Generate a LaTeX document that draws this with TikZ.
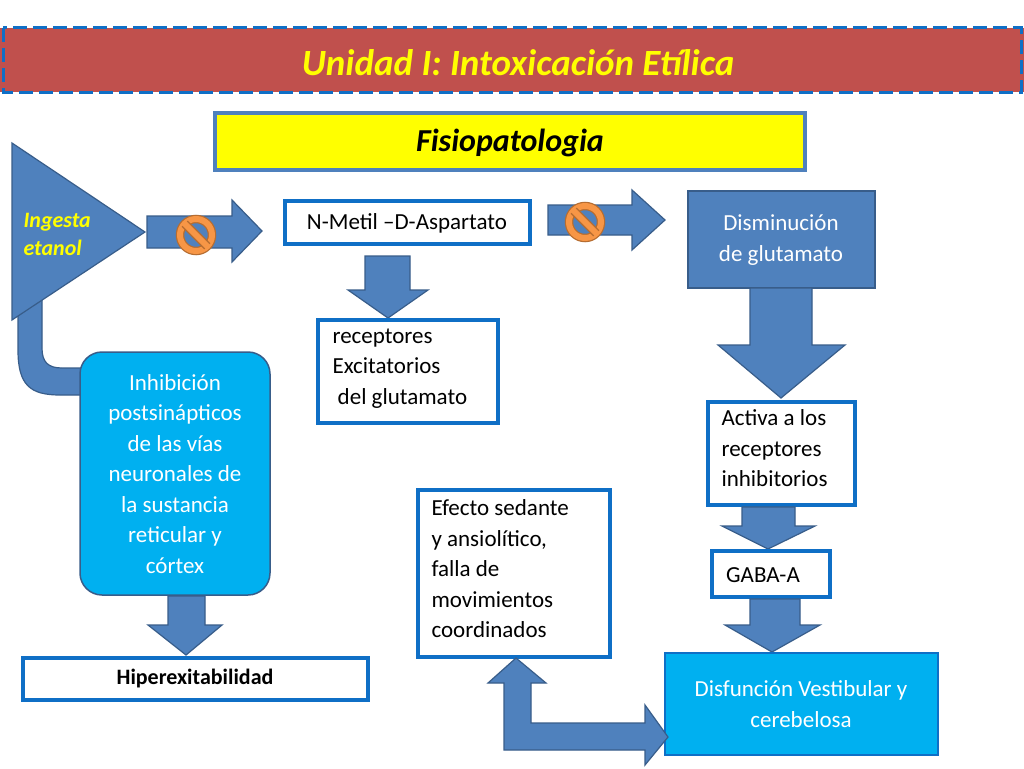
\documentclass[tikz,border=0pt]{standalone}
\usepackage{fontspec}
\setmainfont{Carlito}
\begin{document}
\begin{tikzpicture}[x=1pt,y=-1pt,
 arr/.style={fill=arrblue,draw=arrdark,line width=1.2pt,line join=miter},
 wbox/.style={draw=boxblue,line width=4pt,fill=white},
 txt/.style={font=\fontsize{23}{30.5}\selectfont,align=left,anchor=north west},
 ctxt/.style={font=\fontsize{23}{30.5}\selectfont,align=center,text=white}]
\definecolor{arrblue}{HTML}{4F81BD}
\definecolor{arrdark}{HTML}{385D8A}
\definecolor{boxblue}{HTML}{0F6FC6}
\definecolor{lightb}{HTML}{00B0F0}
\definecolor{titlered}{HTML}{C0504D}
\definecolor{orangec}{HTML}{F79646}
\definecolor{orangedark}{HTML}{B66D31}
\definecolor{ttlyellow}{HTML}{FFFF00}
\newcommand{\nosign}[1]{%
 \draw[orangedark,line width=8.5pt] (#1) circle (16);
 \draw[orangec,line width=6pt] (#1) circle (16);
 \draw[orangedark,line width=8.5pt,shift={(#1)}] (-11.3,-11.3) -- (11.3,11.3);
 \draw[orangec,line width=6pt,shift={(#1)}] (-12.5,-12.5) -- (12.5,12.5);}
\useasboundingbox (0,0) rectangle (1024,768);
\fill[white] (0,0) rectangle (1024,768);
% title
\fill[titlered] (0,28) rectangle (1024,92);
\draw[boxblue,line width=3pt,dash pattern=on 14pt off 6pt] (3,28) rectangle (1021,92);
\node[font=\fontsize{37}{44}\selectfont\bfseries\itshape,text=ttlyellow] (title) at (518,63) {Unidad I: Intoxicación Etílica};
% subtitle
\draw[fill=ttlyellow,draw=arrblue,line width=3.5pt] (215,113) rectangle (805,170);
\node[font=\fontsize{32}{38}\selectfont\bfseries\itshape] (fisio) at (510,143) {Fisiopatologia};
% bent arrow from triangle
\draw[arr] (18,300) -- (18,350) .. controls (18,385) and (30,395) .. (60,395) -- (100,395) -- (100,368) -- (62,368) .. controls (48,368) and (42,362) .. (42,348) -- (42,300) -- cycle;
% triangle
\draw[arr] (12,143) -- (145,232) -- (12,320) -- cycle;
\node[font=\fontsize{22}{28}\selectfont\bfseries\itshape,text=ttlyellow,align=left,anchor=west] (ing) at (20,234) {Ingesta\\etanol};
% arrow 1
\draw[arr] (147,216) -- (232,216) -- (232,200) -- (262,231) -- (232,262) -- (232,248) -- (147,248) -- cycle;
\nosign{196,235}
% NMDA
\draw[wbox] (285,201) rectangle (530,244);
\node[txt,anchor=center] (nmda) at (407,223) {N-Metil –D-Aspartato};
% arrow 2
\draw[arr] (548,205) -- (632,205) -- (632,190) -- (665,220) -- (632,250) -- (632,235) -- (548,235) -- cycle;
\nosign{585,222}
% disminucion
\draw[fill=arrblue,draw=arrdark,line width=1.5pt] (688,191) rectangle (875,288);
\node[ctxt] (dism) at (781,240) {Disminución\\de glutamato};
% down arrow NMDA
\draw[arr] (365,256) -- (410,256) -- (410,290) -- (428,290) -- (388,318) -- (348,290) -- (365,290) -- cycle;
\draw[wbox] (318,320) rectangle (498,423);
\node[txt] (rec) at (329,325) {receptores\\Excitatorios\\\ del glutamato};
% down arrow dism
\draw[arr] (750,288) -- (812,288) -- (812,345) -- (845,345) -- (781,398) -- (718,345) -- (750,345) -- cycle;
\draw[wbox] (708,402) rectangle (855,505);
\node[txt] (act) at (718,406) {Activa a los\\receptores\\inhibitorios};
\draw[arr] (742,507) -- (795,507) -- (795,526) -- (815,526) -- (768,549) -- (722,526) -- (742,526) -- cycle;
\draw[wbox] (712,551) rectangle (830,597);
\node[txt,anchor=center] (gaba) at (763,575) {GABA-A};
\draw[arr] (750,599) -- (800,599) -- (800,625) -- (820,625) -- (772,652) -- (725,625) -- (750,625) -- cycle;
% disfuncion
\draw[fill=lightb,draw=boxblue,line width=1.5pt] (665,653) rectangle (938,755);
\node[ctxt] (disf) at (801,704) {Disfunción Vestibular y\\cerebelosa};
% efecto
\draw[wbox] (418,490) rectangle (610,657);
\node[txt] (efe) at (428,496) {Efecto sedante\\y ansiolítico,\\falla de\\movimientos\\coordinados};
% double arrow
\draw[arr] (516,658) -- (546,683) -- (531,683) -- (531,723) -- (645,723) -- (645,705) -- (668,737) -- (645,765) -- (645,750) -- (504,750) -- (504,683) -- (488,683) -- cycle;
% inhibicion
\draw[fill=lightb,draw=arrdark,line width=1.5pt,rounded corners=22pt] (80,352) rectangle (270,595);
\node[ctxt] (inh) at (175,474) {Inhibición\\postsinápticos\\de las vías\\neuronales de\\la sustancia\\reticular y\\córtex};
\draw[arr] (168,596) -- (205,596) -- (205,625) -- (222,625) -- (186,655) -- (148,625) -- (168,625) -- cycle;
\draw[wbox] (23,658) rectangle (368,700);
\node[font=\fontsize{22}{26}\selectfont\bfseries] (hip) at (195,679) {Hiperexitabilidad};
\end{tikzpicture}
\end{document}
